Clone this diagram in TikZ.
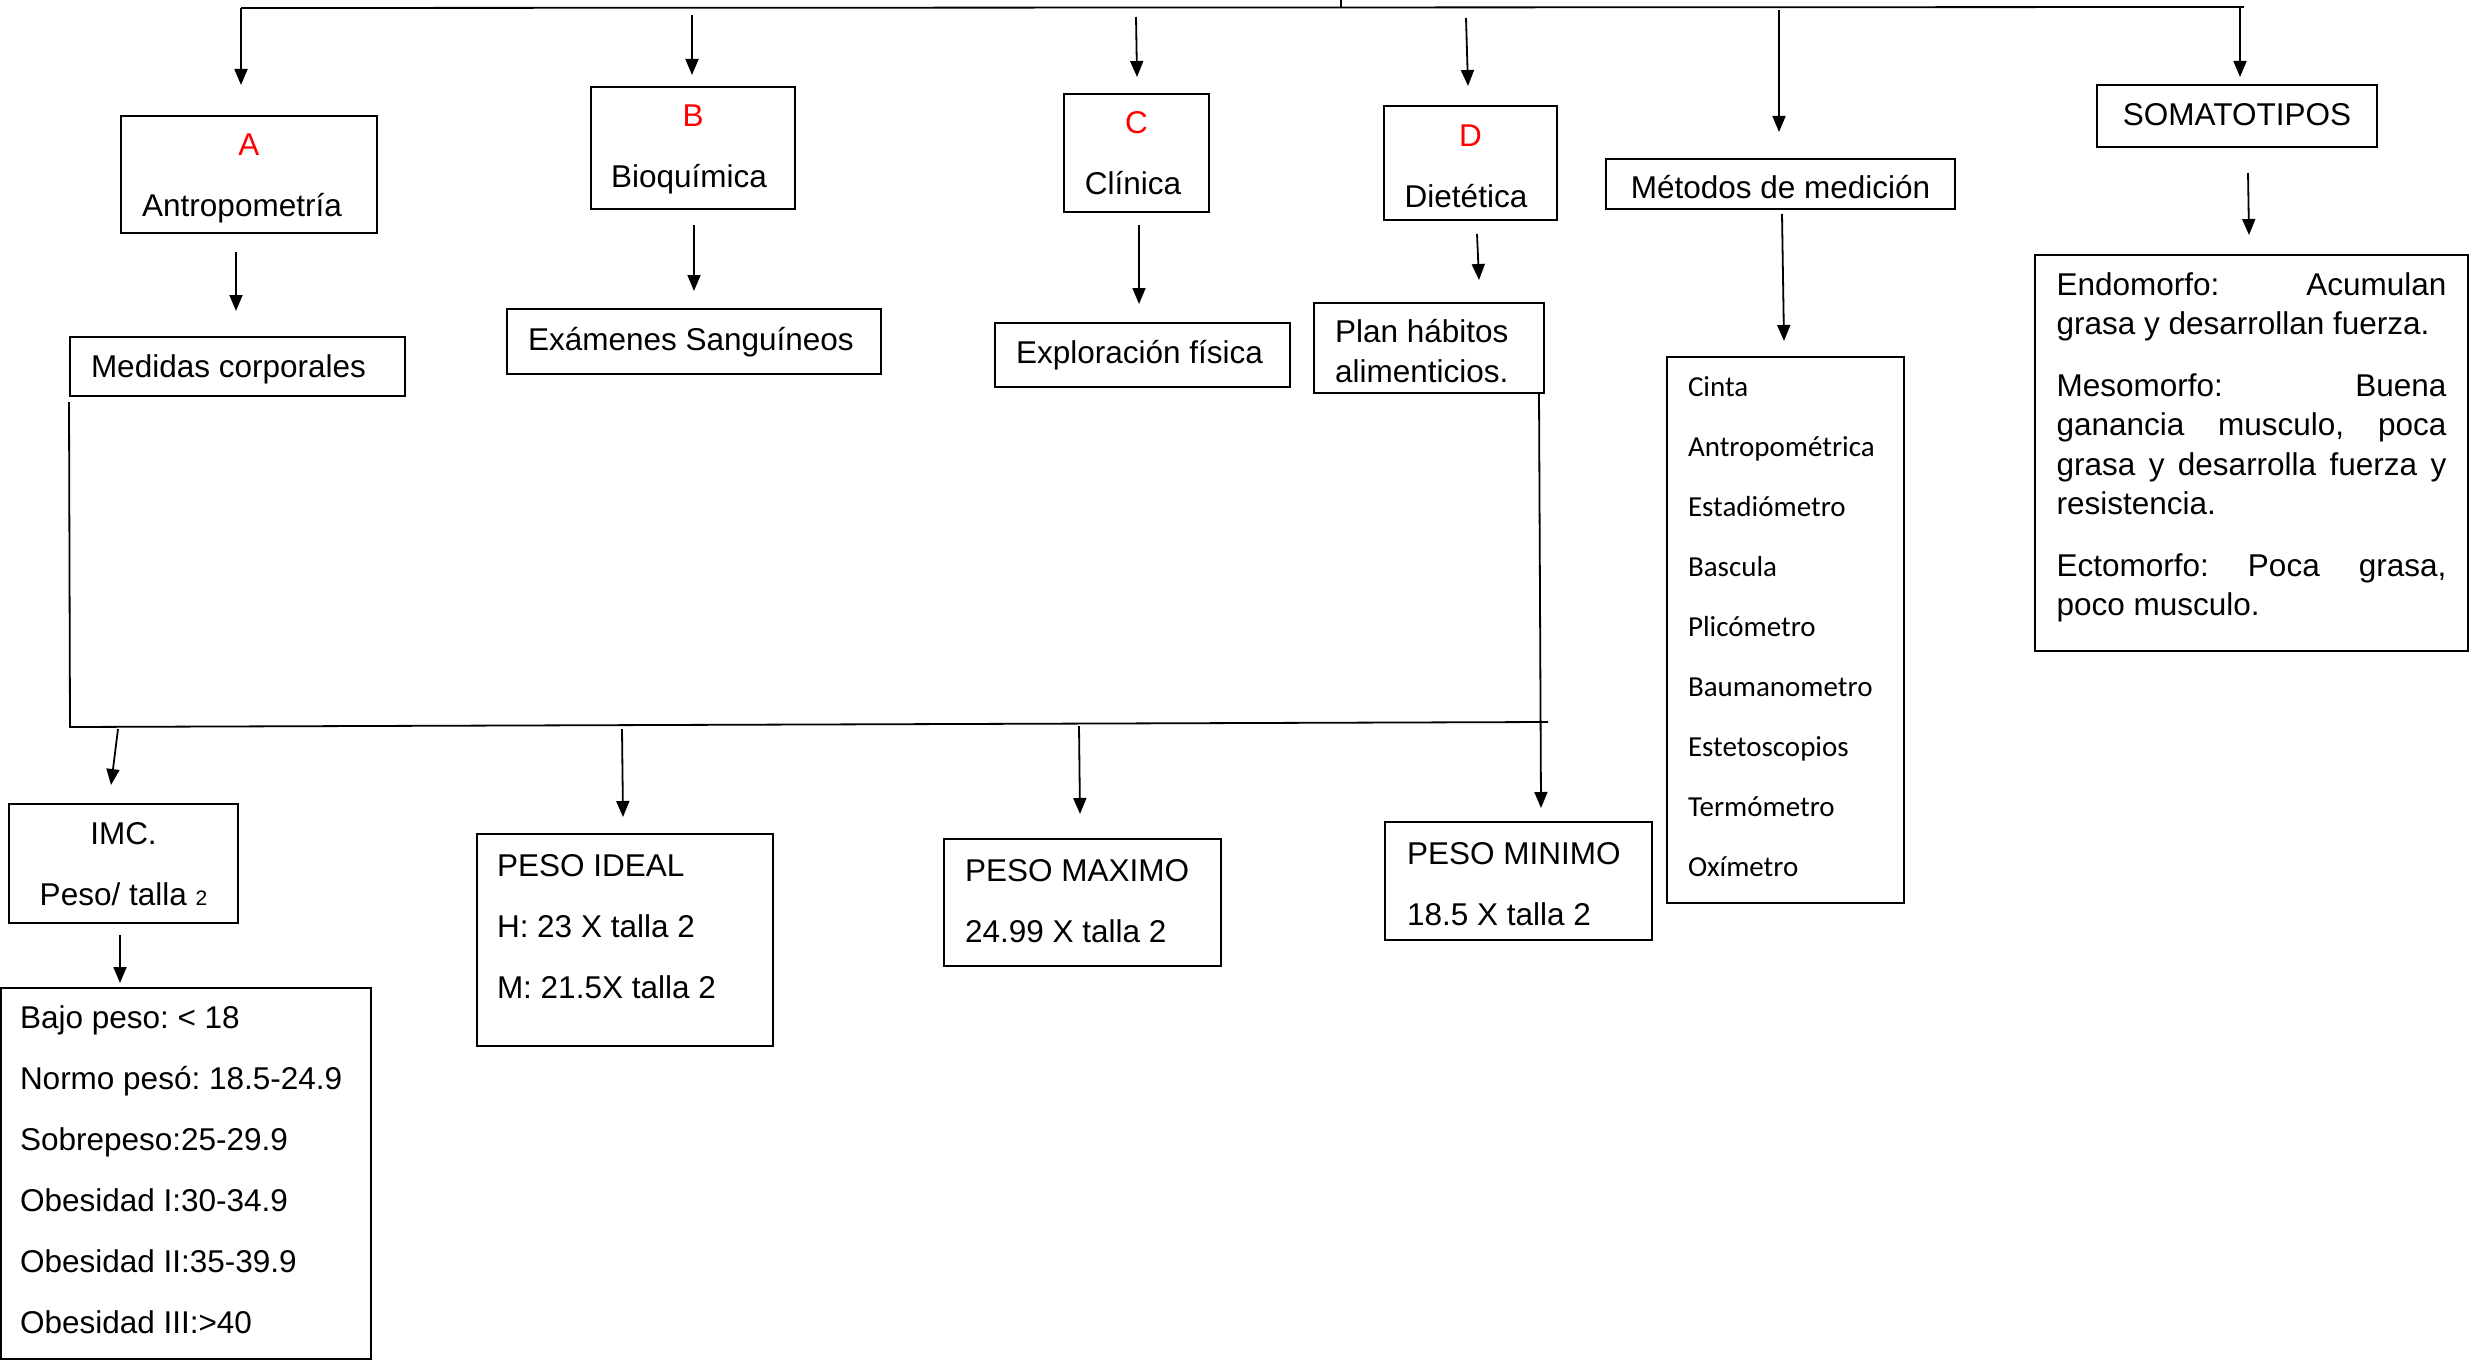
\documentclass[tikz,border=0pt]{standalone}
\usepackage{fontspec}
\setmainfont{Liberation Sans}
\newfontfamily\calfont{Carlito}
\usetikzlibrary{arrows.meta}
\begin{document}
\frenchspacing
\begin{tikzpicture}[x=1pt,y=-1pt,
  box/.style={draw, line width=1.8pt, inner ysep=0pt, outer sep=0pt, anchor=north west},
  mf/.style={font=\fontsize{31.5}{61}\selectfont},
  conn/.style={line width=1.8pt},
  arr/.style={line width=1.8pt, -{Triangle[length=16pt,width=13pt]}}]
\useasboundingbox (0,0) rectangle (2472,1364);

% ---- first level boxes
\node[box, mf, align=flush center, inner xsep=0pt, text width=256pt, text height=40pt, text depth=77pt] (A) at (121,116) {\textcolor{red}{A}\\\hspace*{-14pt}Antropometría};
\node[box, mf, align=flush center, inner xsep=0pt, text width=204pt, text height=40pt, text depth=82pt] (B) at (591,87) {\textcolor{red}{B}\\\hspace*{-8pt}Bioquímica};
\node[box, mf, align=flush center, inner xsep=0pt, text width=145pt, text height=40pt, text depth=78pt] (C) at (1064,94) {\textcolor{red}{C}\\\hspace*{-7pt}Clínica};
\node[box, mf, align=flush center, inner xsep=0pt, text width=173pt, text height=41pt, text depth=73pt] (D) at (1384,106) {\textcolor{red}{D}\\\hspace*{-9pt}Dietética};
\node[box, mf, align=flush center, inner xsep=0pt, text width=349pt, text height=40pt, text depth=10pt] (Met) at (1606,159) {Métodos de medición};
\node[box, mf, align=flush center, inner xsep=0pt, text width=280pt, text height=41pt, text depth=21pt] (Som) at (2097,85) {SOMATOTIPOS};

% ---- second level boxes
\node[box, mf, align=flush left, inner xsep=21pt, text width=293pt, text height=40pt, text depth=19pt] (Med) at (70,337) {Medidas corporales};
\node[box, mf, align=flush left, inner xsep=21pt, text width=332pt, text height=41pt, text depth=24pt] (Exa) at (507,309) {Exámenes Sanguíneos};
\node[box, mf, align=flush left, inner xsep=21pt, text width=253pt, text height=40pt, text depth=24pt] (Exp) at (995,323) {Exploración física};
\node[box, align=flush left, inner xsep=21pt, text width=188pt, text height=39pt, text depth=51pt, font=\fontsize{31.5}{40}\selectfont] (Plan) at (1314,303) {Plan hábitos\\alimenticios.};
\node[box, align=flush left, inner xsep=21pt, text width=195pt, text height=39pt, text depth=507pt, font=\calfont\fontsize{29}{60}\selectfont] (Inst) at (1667,357)
  {Cinta\\Antropométrica\\Estadiómetro\\Bascula\\Plicómetro\\Baumanometro\\Estetoscopios\\Termómetro\\Oxímetro};
\node[box, align=flush left, inner xsep=21.5pt, text width=390pt, text height=40pt, text depth=356pt, font=\fontsize{31.5}{39.5}\selectfont] (Endo) at (2035,255)
  {\makebox[390pt][s]{Endomorfo:\hfill Acumulan}\\
   grasa y desarrollan fuerza.\\[22pt]
   \makebox[390pt][s]{Mesomorfo:\hfill Buena}\\
   \makebox[390pt][s]{ganancia\hfill musculo,\hfill poca}\\
   \makebox[390pt][s]{grasa\hfill y\hfill desarrolla\hfill fuerza\hfill y}\\
   resistencia.\\[22pt]
   \makebox[390pt][s]{Ectomorfo:\hfill Poca\hfill grasa,}\\
   poco musculo.};

% ---- lower boxes
\node[box, mf, align=flush center, inner xsep=0pt, text width=229pt, text height=40pt, text depth=79pt] (IMC) at (9,804) {IMC.\\Peso/ talla {\fontsize{21}{21}\selectfont 2}};
\node[box, mf, align=flush left, inner xsep=19pt, text width=332pt, text height=40pt, text depth=331pt] (BMI) at (1,988)
  {Bajo peso: < 18\\Normo pesó: 18.5-24.9\\Sobrepeso:25-29.9\\Obesidad I:30-34.9\\Obesidad II:35-39.9\\Obesidad III:>40};
\node[box, mf, align=flush left, inner xsep=20pt, text width=256pt, text height=42pt, text depth=170pt] (Ideal) at (477,834) {PESO IDEAL\\H: 23 X talla 2\\M: 21.5X talla 2};
\node[box, mf, align=flush left, inner xsep=21pt, text width=235pt, text height=42pt, text depth=85pt] (Max) at (944,839) {PESO MAXIMO\\24.99 X talla 2};
\node[box, mf, align=flush left, inner xsep=22pt, text width=223pt, text height=42pt, text depth=76pt] (Min) at (1385,822) {PESO MINIMO\\18.5 X talla 2};

% ---- connector points
\coordinate (stem) at (1341,0);
\coordinate (stemB) at (1341,8);
\coordinate (topL) at (241,8);
\coordinate (topR) at (2244,7);
\coordinate (tA) at (241,85);
\coordinate (sB) at (692,15);   \coordinate (tB) at (692,75);
\coordinate (sC) at (1136,17);  \coordinate (tC) at (1137,77);
\coordinate (sD) at (1466,18);  \coordinate (tD) at (1468,86);
\coordinate (sM) at (1779,10);  \coordinate (tM) at (1779,132);
\coordinate (sS) at (2240,7);   \coordinate (tS) at (2240,77);
\coordinate (sA2) at (236,252); \coordinate (tA2) at (236,311);
\coordinate (sB2) at (694,225); \coordinate (tB2) at (694,291);
\coordinate (sC2) at (1139,225);\coordinate (tC2) at (1139,304);
\coordinate (sD2) at (1477,234);\coordinate (tD2) at (1479,280);
\coordinate (sM2) at (1782,214);\coordinate (tM2) at (1784,341);
\coordinate (sS2) at (2248,173);\coordinate (tS2) at (2249,235);
\coordinate (sP) at (1539,394); \coordinate (tP) at (1541,808);
\coordinate (bl1) at (69,402);  \coordinate (bl2) at (70,727);  \coordinate (bl3) at (1548,722);
\coordinate (sI) at (118,729);  \coordinate (tI) at (111,785);
\coordinate (sId) at (622,729); \coordinate (tId) at (623,817);
\coordinate (sMx) at (1079,726);\coordinate (tMx) at (1080,814);
\coordinate (sI2) at (120,935); \coordinate (tI2) at (120,983);

% ---- connectors
\draw[conn] (stem) -- (stemB);
\draw[conn] (topL) -- (topR);
\draw[arr] (topL) -- (tA);
\draw[arr] (sB) -- (tB);
\draw[arr] (sC) -- (tC);
\draw[arr] (sD) -- (tD);
\draw[arr] (sM) -- (tM);
\draw[arr] (sS) -- (tS);
\draw[arr] (sA2) -- (tA2);
\draw[arr] (sB2) -- (tB2);
\draw[arr] (sC2) -- (tC2);
\draw[arr] (sD2) -- (tD2);
\draw[arr] (sM2) -- (tM2);
\draw[arr] (sS2) -- (tS2);
\draw[arr] (sP) -- (tP);
\draw[conn] (bl1) -- (bl2) -- (bl3);
\draw[arr] (sI) -- (tI);
\draw[arr] (sId) -- (tId);
\draw[arr] (sMx) -- (tMx);
\draw[arr] (sI2) -- (tI2);
\end{tikzpicture}
\end{document}
